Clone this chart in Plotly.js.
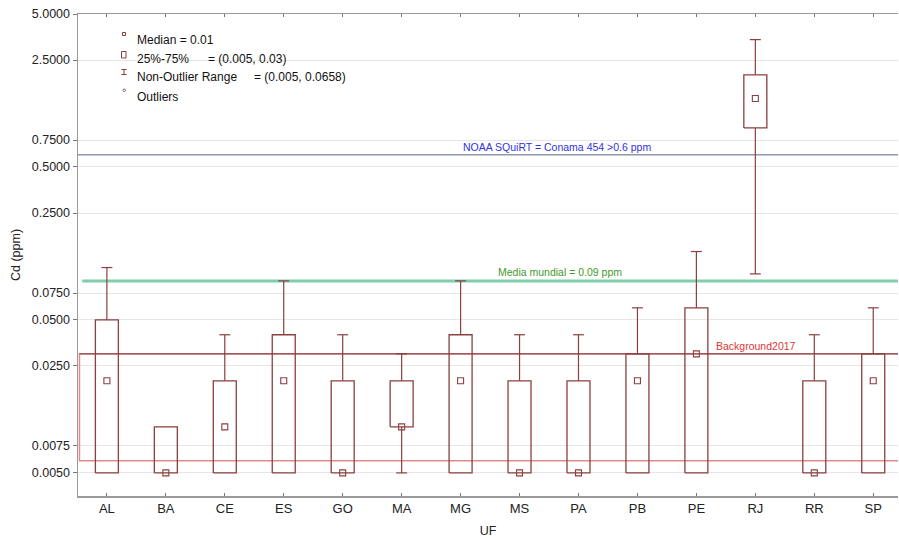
<!DOCTYPE html>
<html>
<head>
<meta charset="utf-8">
<script src="https://cdn.plot.ly/plotly-3.0.1.min.js"></script>
<style>
  html, body { margin: 0; padding: 0; background: #fff; }
  #chart { width: 899px; height: 540px; }
</style>
</head>
<body>
<div id="chart"></div>
<script>
// Cd concentration (ppm) by state (UF): box statistics
var states       = ['AL','BA','CE','ES','GO','MA','MG','MS','PA','PB','PE','RJ','RR','SP'];
var lowWhisker   = [0.005,0.005,0.005,0.005,0.005,0.005,0.005,0.005,0.005,0.005,0.005,0.10,0.005,0.005];
var q1           = [0.005,0.005,0.005,0.005,0.005,0.010,0.005,0.005,0.005,0.005,0.005,0.90,0.005,0.005];
var medians      = [0.020,0.005,0.010,0.020,0.005,0.010,0.020,0.005,0.005,0.020,0.030,1.40,0.005,0.020];
var q3           = [0.050,0.010,0.020,0.040,0.020,0.020,0.040,0.020,0.020,0.030,0.060,2.00,0.020,0.030];
var highWhisker  = [0.110,0.010,0.040,0.090,0.040,0.030,0.090,0.040,0.040,0.060,0.140,3.40,0.040,0.060];

// Reference levels (ppm)
var noaaLevel = 0.6;
var worldMean = 0.09;
var backgroundLow = 0.006;
var backgroundHigh = 0.03;

var yTicks = [0.005, 0.0075, 0.025, 0.05, 0.075, 0.25, 0.5, 0.75, 2.5, 5];

var BOX = '#8b3f3f';
var FONT = 'Liberation Sans, Arial, sans-serif';
var xMin = -0.49, xMax = 13.42;
var halfBox = 0.195, halfCap = 0.093;

var boxX = [], boxY = [], whX = [], whY = [];
states.forEach(function (s, i) {
  boxX.push(i - halfBox, i + halfBox, i + halfBox, i - halfBox, i - halfBox, null);
  boxY.push(q1[i], q1[i], q3[i], q3[i], q1[i], null);
  if (highWhisker[i] > q3[i]) {
    whX.push(i, i, null, i - halfCap, i + halfCap, null);
    whY.push(q3[i], highWhisker[i], null, highWhisker[i], highWhisker[i], null);
  }
  if (lowWhisker[i] < q1[i]) {
    whX.push(i, i, null, i - halfCap, i + halfCap, null);
    whY.push(q1[i], lowWhisker[i], null, lowWhisker[i], lowWhisker[i], null);
  }
});
var idx = states.map(function (s, i) { return i; });

var traces = [
  // background band 2017
  { x: [xMax, -0.465, -0.465, xMax], y: [backgroundLow, backgroundLow, backgroundHigh, backgroundHigh],
    mode: 'lines', line: { color: '#e08a8a', width: 1.5 }, hoverinfo: 'skip' },
  { x: [-0.465, xMax], y: [backgroundHigh, backgroundHigh],
    mode: 'lines', line: { color: '#934a4a', width: 1.2 }, hoverinfo: 'skip' },
  // NOAA SQuiRT level
  { x: [xMin, xMax], y: [noaaLevel, noaaLevel],
    mode: 'lines', line: { color: '#8e9ba6', width: 1.5 }, hoverinfo: 'skip' },
  // world mean
  { x: [-0.42, xMax], y: [worldMean, worldMean],
    mode: 'lines', line: { color: '#80cfaa', width: 3 }, hoverinfo: 'skip' },
  // whiskers
  { x: whX, y: whY, mode: 'lines', line: { color: BOX, width: 1.2 }, hoverinfo: 'skip' },
  // boxes
  { x: boxX, y: boxY, mode: 'lines', line: { color: BOX, width: 1.3 }, hoverinfo: 'skip' },
  // medians
  { x: idx, y: medians, mode: 'markers',
    marker: { symbol: 'square-open', size: 6, color: BOX, line: { width: 1.1, color: BOX } } }
];

// pixel -> paper helper for legend decorations
var L = 78, T = 14, W = 820, H = 482;
function px(X) { return (X - L) / W; }
function py(Y) { return 1 - (Y - T) / H; }

var legendShapes = [
  { type: 'rect', xref: 'paper', yref: 'paper', x0: px(122.5), x1: px(125.5), y0: py(35.5), y1: py(32.5),
    line: { color: BOX, width: 1 } },
  { type: 'rect', xref: 'paper', yref: 'paper', x0: px(121.5), x1: px(126), y0: py(58), y1: py(51.5),
    line: { color: BOX, width: 1 } },
  { type: 'line', xref: 'paper', yref: 'paper', x0: px(124), x1: px(124), y0: py(69.5), y1: py(74.5),
    line: { color: BOX, width: 1 } },
  { type: 'line', xref: 'paper', yref: 'paper', x0: px(121.5), x1: px(126.5), y0: py(69.5), y1: py(69.5),
    line: { color: BOX, width: 1 } },
  { type: 'line', xref: 'paper', yref: 'paper', x0: px(121.5), x1: px(126.5), y0: py(74.5), y1: py(74.5),
    line: { color: BOX, width: 1 } },
  { type: 'circle', xref: 'paper', yref: 'paper', x0: px(123), x1: px(125.5), y0: py(91.5), y1: py(89),
    line: { color: BOX, width: 0.8 } }
];

function legendText(X, Y, text) {
  return { xref: 'paper', yref: 'paper', x: px(X), y: py(Y), xanchor: 'left', yanchor: 'middle',
           text: text, showarrow: false, font: { family: FONT, size: 12, color: '#111' } };
}

var annotations = [
  legendText(135, 40, 'Median = 0.01'),
  legendText(135, 58.5, '25%-75%'),
  legendText(206, 58.5, '= (0.005, 0.03)'),
  legendText(135, 77.5, 'Non-Outlier Range'),
  legendText(252, 77.5, '= (0.005, 0.0658)'),
  legendText(135, 97, 'Outliers'),
  { x: 7.63, y: Math.log10(noaaLevel), xref: 'x', yref: 'y', yanchor: 'bottom', yshift: 0,
    text: 'NOAA SQuiRT = Conama 454 >0.6 ppm', showarrow: false,
    font: { family: FONT, size: 10.5, color: '#3333dd' } },
  { x: 7.69, y: Math.log10(worldMean), xref: 'x', yref: 'y', yanchor: 'bottom', yshift: 1,
    text: 'Media mundial = 0.09 ppm', showarrow: false,
    font: { family: FONT, size: 10.5, color: '#3f9a2a' } },
  { x: 11.01, y: Math.log10(backgroundHigh), xref: 'x', yref: 'y', yanchor: 'bottom', yshift: 0,
    text: 'Background2017', showarrow: false,
    font: { family: FONT, size: 10.5, color: '#e03535' } }
];

var layout = {
  width: 899, height: 540,
  margin: { l: L, r: 899 - L - W, t: T, b: 540 - T - H },
  paper_bgcolor: '#fff', plot_bgcolor: '#fff',
  showlegend: false,
  font: { family: FONT, size: 12.5, color: '#222' },
  xaxis: {
    range: [xMin, xMax], tickvals: idx, ticktext: states,
    showgrid: false, zeroline: false,
    showline: true, linecolor: '#9a9a9a', linewidth: 1.5, mirror: 'ticks',
    ticks: 'inside', ticklen: 3, tickcolor: '#777',
    tickfont: { family: FONT, size: 13, color: '#222' },
    title: { text: 'UF', font: { family: FONT, size: 12.5, color: '#222' }, standoff: 11 }
  },
  yaxis: {
    type: 'log', range: [Math.log10(0.005) - 0.151, Math.log10(5)],
    tickvals: yTicks, ticktext: yTicks.map(function (v) { return v.toFixed(4); }),
    showgrid: true, gridcolor: '#e6e6e6', gridwidth: 1, zeroline: false,
    showline: true, linecolor: '#9a9a9a', linewidth: 1.5, mirror: false,
    ticks: 'outside', ticklen: 4, tickcolor: '#777',
    tickfont: { family: FONT, size: 12.5, color: '#222' },
    title: { text: 'Cd (ppm)', font: { family: FONT, size: 12.5, color: '#222' }, standoff: 8 }
  },
  shapes: legendShapes,
  annotations: annotations
};

Plotly.newPlot('chart', traces, layout, { displayModeBar: false, staticPlot: true });
</script>
</body>
</html>
